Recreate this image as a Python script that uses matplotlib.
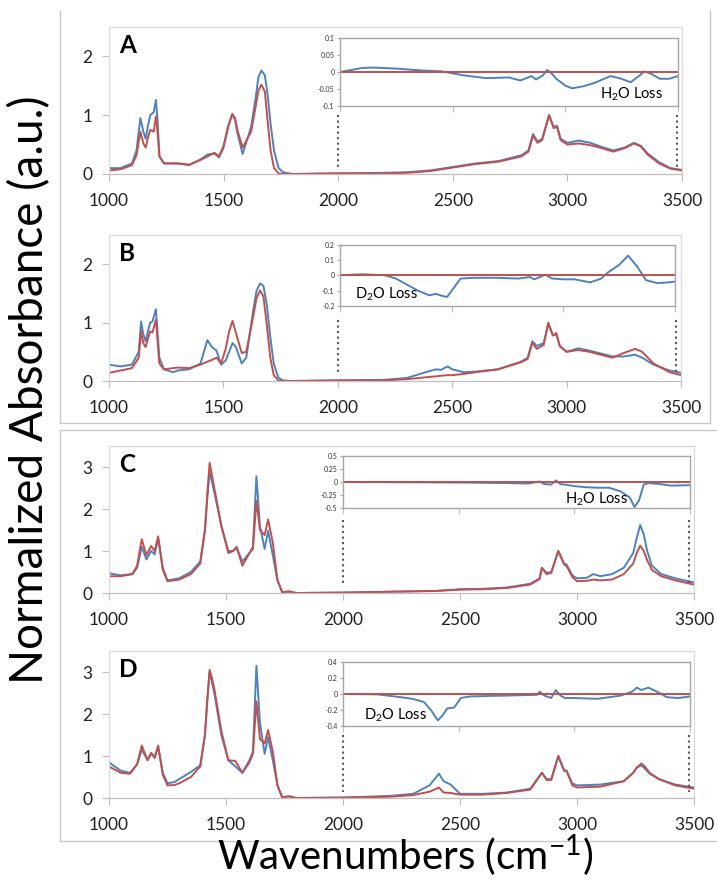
import matplotlib
matplotlib.use("Agg")
import matplotlib.pyplot as plt
from matplotlib.lines import Line2D

plt.rcParams['font.family'] = ['Lato', 'DejaVu Sans']
plt.rcParams['mathtext.fontset'] = 'custom'
plt.rcParams['mathtext.rm'] = 'Lato'
plt.rcParams['mathtext.it'] = 'Lato:italic'

BLUE = '#4f81bd'
RED = '#c0504d'

# ---------------- panel A (H2O, protein) ----------------
a_wn = [1000, 1050, 1100, 1120, 1137, 1150, 1160, 1170, 1180, 1195, 1205, 1212, 1220, 1240,
        1300, 1350, 1400, 1430, 1460, 1480, 1500, 1520, 1538, 1550, 1560, 1583, 1620, 1640,
        1652, 1665, 1680, 1692, 1705, 1720, 1740, 1760, 1800,
        2000, 2200, 2300, 2400, 2500, 2600, 2700, 2800, 2830, 2850, 2870, 2890, 2920,
        2940, 2955, 2970, 3000, 3050, 3100, 3150, 3200, 3250, 3290, 3320, 3350, 3400,
        3450, 3500]
a_blue = [0.10, 0.10, 0.18, 0.40, 0.95, 0.72, 0.60, 0.82, 1.00, 1.05, 1.26, 0.90, 0.30, 0.18,
          0.18, 0.15, 0.25, 0.33, 0.35, 0.28, 0.45, 0.80, 1.02, 0.92, 0.70, 0.34, 0.80, 1.30,
          1.65, 1.76, 1.68, 1.35, 0.85, 0.40, 0.10, 0.03, 0.00,
          0.01, 0.02, 0.03, 0.06, 0.12, 0.18, 0.22, 0.32, 0.40, 0.68, 0.55, 0.60, 1.00,
          0.80, 0.82, 0.60, 0.53, 0.57, 0.53, 0.46, 0.40, 0.45, 0.53, 0.48, 0.35, 0.20,
          0.10, 0.07]
a_red = [0.06, 0.08, 0.15, 0.32, 0.72, 0.52, 0.45, 0.62, 0.75, 0.72, 0.98, 0.70, 0.30, 0.18,
         0.18, 0.16, 0.24, 0.30, 0.36, 0.30, 0.48, 0.82, 1.02, 0.95, 0.75, 0.45, 0.72, 1.15,
         1.42, 1.52, 1.40, 0.90, 0.40, 0.10, 0.01, 0.00, 0.00,
         0.01, 0.01, 0.02, 0.05, 0.11, 0.17, 0.21, 0.30, 0.38, 0.65, 0.53, 0.58, 1.00,
         0.78, 0.80, 0.58, 0.50, 0.52, 0.49, 0.44, 0.38, 0.44, 0.52, 0.47, 0.33, 0.18,
         0.09, 0.06]
a_diff_wn = [2000, 2100, 2150, 2250, 2350, 2450, 2550, 2650, 2750, 2800, 2850, 2870, 2900,
             2920, 2940, 2960, 3000, 3030, 3080, 3130, 3200, 3240, 3290, 3330, 3350, 3380,
             3420, 3460, 3500]
a_diff = [0.000, 0.012, 0.013, 0.010, 0.005, 0.002, -0.010, -0.018, -0.016, -0.025, -0.012,
          -0.022, -0.010, 0.006, -0.005, -0.020, -0.040, -0.048, -0.042, -0.032, -0.012,
          -0.018, -0.030, -0.010, 0.002, -0.005, -0.020, -0.020, -0.012]

# ---------------- panel B (D2O, protein) ----------------
b_wn = [1000, 1050, 1100, 1130, 1140, 1150, 1160, 1170, 1180, 1190, 1205, 1212, 1220, 1240,
        1280, 1300, 1350, 1400, 1430, 1450, 1470, 1490, 1510, 1525, 1540, 1555, 1580, 1600,
        1630, 1645, 1660, 1675, 1690, 1705, 1720, 1740, 1760, 1800,
        2000, 2200, 2300, 2400, 2430, 2450, 2480, 2500, 2550, 2600, 2700,
        2800, 2830, 2850, 2870, 2900, 2920, 2940, 2955, 2970, 3000, 3050, 3100, 3150, 3200,
        3250, 3300, 3330, 3380, 3450, 3500]
b_blue = [0.28, 0.25, 0.28, 0.50, 1.02, 0.80, 0.68, 0.85, 1.00, 1.02, 1.23, 0.85, 0.40, 0.20,
          0.15, 0.18, 0.20, 0.30, 0.70, 0.58, 0.52, 0.28, 0.35, 0.50, 0.65, 0.58, 0.30, 0.40,
          1.20, 1.55, 1.67, 1.63, 1.30, 0.75, 0.30, 0.06, 0.01, 0.00,
          0.01, 0.02, 0.05, 0.17, 0.20, 0.19, 0.25, 0.20, 0.15, 0.16, 0.20,
          0.33, 0.40, 0.68, 0.60, 0.65, 0.98, 0.78, 0.80, 0.60, 0.50, 0.56, 0.52, 0.47, 0.42,
          0.42, 0.45, 0.40, 0.28, 0.18, 0.14]
b_red = [0.14, 0.18, 0.22, 0.40, 0.85, 0.65, 0.58, 0.72, 0.85, 0.83, 1.05, 0.70, 0.30, 0.20,
         0.22, 0.23, 0.22, 0.28, 0.33, 0.36, 0.40, 0.30, 0.55, 0.85, 1.03, 0.82, 0.48, 0.50,
         1.10, 1.42, 1.55, 1.45, 0.95, 0.40, 0.10, 0.01, 0.00, 0.00,
         0.01, 0.01, 0.03, 0.07, 0.08, 0.09, 0.10, 0.10, 0.12, 0.15, 0.20,
         0.32, 0.38, 0.65, 0.55, 0.62, 1.00, 0.78, 0.82, 0.60, 0.50, 0.53, 0.50, 0.45, 0.40,
         0.48, 0.55, 0.50, 0.30, 0.15, 0.10]
b_diff_wn = [2000, 2100, 2200, 2250, 2300, 2350, 2400, 2430, 2460, 2480, 2510, 2540, 2600,
             2700, 2800, 2850, 2870, 2920, 2950, 3000, 3050, 3120, 3170, 3200, 3250, 3290,
             3330, 3370, 3420, 3470, 3500]
b_diff = [0.002, 0.008, 0.002, -0.020, -0.060, -0.100, -0.130, -0.120, -0.135, -0.140,
          -0.080, -0.020, -0.015, -0.015, -0.020, -0.010, -0.025, 0.005, -0.020, -0.025,
          -0.025, -0.045, -0.020, 0.020, 0.070, 0.130, 0.060, -0.030, -0.050, -0.045, -0.040]

# ---------------- panel C (H2O, lipid) ----------------
c_wn = [1000, 1050, 1100, 1120, 1140, 1160, 1180, 1195, 1210, 1230, 1250, 1300, 1350, 1390,
        1410, 1420, 1430, 1440, 1450, 1480, 1510, 1530, 1545, 1570, 1600, 1615, 1630, 1645,
        1665, 1680, 1700, 1720, 1740, 1770, 1800, 2000, 2200, 2400, 2500, 2600, 2700, 2800,
        2840, 2850, 2870, 2890, 2920, 2945, 2955, 2980, 3000, 3040, 3070, 3100, 3150, 3200,
        3240, 3255, 3270, 3285, 3300, 3320, 3360, 3420, 3500]
c_blue = [0.47, 0.42, 0.45, 0.60, 1.10, 0.80, 1.00, 0.92, 1.30, 0.60, 0.30, 0.35, 0.50, 0.75,
          1.50, 2.25, 2.88, 2.65, 2.40, 1.60, 1.00, 1.00, 1.08, 0.75, 0.95, 1.10, 2.78, 1.60,
          1.05, 1.48, 0.90, 0.30, 0.02, 0.03, 0.00, 0.01, 0.03, 0.05, 0.09, 0.10, 0.13, 0.22,
          0.35, 0.60, 0.48, 0.50, 1.00, 0.70, 0.68, 0.42, 0.35, 0.36, 0.45, 0.40, 0.45, 0.60,
          0.95, 1.30, 1.62, 1.40, 1.00, 0.65, 0.45, 0.35, 0.25]
c_red = [0.40, 0.40, 0.45, 0.65, 1.28, 0.90, 1.12, 1.00, 1.35, 0.55, 0.28, 0.32, 0.45, 0.70,
         1.50, 2.35, 3.10, 2.80, 2.50, 1.60, 0.95, 1.00, 1.10, 0.65, 0.95, 1.05, 2.20, 1.50,
         1.38, 1.75, 1.20, 0.30, 0.02, 0.04, 0.00, 0.01, 0.03, 0.05, 0.08, 0.09, 0.12, 0.20,
         0.33, 0.60, 0.45, 0.48, 1.00, 0.68, 0.65, 0.38, 0.28, 0.29, 0.32, 0.30, 0.32, 0.45,
         0.70, 0.95, 1.13, 1.00, 0.78, 0.55, 0.40, 0.30, 0.20]
c_diff_wn = [2000, 2500, 2700, 2800, 2850, 2870, 2900, 2920, 2940, 2960, 3000, 3050, 3100,
             3150, 3200, 3240, 3260, 3280, 3300, 3320, 3370, 3420, 3500]
c_diff = [0.00, -0.01, -0.02, -0.03, 0.01, -0.04, -0.05, 0.03, -0.04, -0.05, -0.08, -0.10,
          -0.11, -0.11, -0.18, -0.30, -0.48, -0.35, -0.05, -0.02, -0.04, -0.07, -0.06]

# ---------------- panel D (D2O, lipid) ----------------
d_wn = [1000, 1050, 1090, 1120, 1140, 1165, 1180, 1195, 1210, 1230, 1250, 1280, 1300, 1350,
        1390, 1410, 1420, 1430, 1440, 1450, 1480, 1510, 1540, 1570, 1600, 1615, 1630, 1645,
        1665, 1680, 1700, 1720, 1740, 1770, 1800, 2000, 2200, 2300, 2370, 2410, 2430, 2460,
        2500, 2600, 2700, 2800, 2850, 2870, 2890, 2920, 2945, 2955, 2980, 3000, 3100, 3200,
        3240, 3255, 3275, 3290, 3310, 3350, 3420, 3500]
d_blue = [0.85, 0.65, 0.60, 0.80, 1.15, 0.90, 1.05, 0.98, 1.22, 0.60, 0.35, 0.38, 0.45, 0.62,
          0.78, 1.50, 2.30, 3.00, 2.75, 2.50, 1.50, 0.90, 0.75, 0.60, 0.90, 1.10, 3.15, 1.80,
          1.05, 1.45, 0.90, 0.30, 0.01, 0.04, 0.00, 0.01, 0.05, 0.10, 0.30, 0.58, 0.40, 0.32,
          0.10, 0.10, 0.13, 0.22, 0.60, 0.45, 0.45, 1.00, 0.65, 0.65, 0.35, 0.30, 0.32, 0.40,
          0.60, 0.72, 0.78, 0.70, 0.58, 0.45, 0.32, 0.25]
d_red = [0.75, 0.60, 0.58, 0.80, 1.25, 0.90, 1.08, 0.95, 1.25, 0.55, 0.30, 0.31, 0.35, 0.50,
         0.75, 1.50, 2.35, 3.05, 2.85, 2.60, 1.60, 0.90, 0.88, 0.60, 0.85, 1.05, 2.30, 1.40,
         1.30, 1.62, 1.10, 0.30, 0.02, 0.04, 0.00, 0.01, 0.03, 0.07, 0.15, 0.25, 0.13, 0.12,
         0.08, 0.08, 0.12, 0.20, 0.60, 0.43, 0.43, 1.00, 0.65, 0.65, 0.30, 0.25, 0.27, 0.40,
         0.60, 0.72, 0.82, 0.75, 0.60, 0.45, 0.30, 0.22]
d_diff_wn = [2000, 2150, 2250, 2300, 2350, 2380, 2410, 2430, 2450, 2480, 2510, 2550, 2700,
             2840, 2850, 2870, 2900, 2920, 2940, 2960, 3000, 3100, 3200, 3250, 3270, 3290,
             3320, 3370, 3400, 3450, 3500]
d_diff = [0.000, -0.005, -0.040, -0.060, -0.100, -0.200, -0.330, -0.270, -0.180, -0.170,
          -0.050, -0.030, -0.020, -0.010, 0.030, -0.020, -0.050, 0.050, -0.020, -0.050,
          -0.050, -0.060, -0.020, 0.030, 0.080, 0.050, 0.080, 0.010, -0.040, -0.050, -0.030]

zero_wn = [2000, 3500]
zero_diff = [0, 0]

W, H = 717, 880
fig = plt.figure(figsize=(W / 100, H / 100), dpi=100)


def box(l, t, r, b):
    return [l / W, 1 - b / H, (r - l) / W, (b - t) / H]


def main_panel(rect, wn, blue, red, ymax, yticks, letter, dots):
    ax = fig.add_axes(box(*rect))
    ax.plot(wn, blue, color=BLUE, lw=1.4)
    ax.plot(wn, red, color=RED, lw=1.4)
    for xd in (2000, 3480):
        ax.plot([xd, xd], dots, color='#555555', ls=':', lw=1.5)
    ax.set_xlim(1000, 3500)
    ax.set_ylim(0, ymax)
    ax.set_xticks([1000, 1500, 2000, 2500, 3000, 3500])
    ax.set_yticks(yticks)
    for s in ax.spines.values():
        s.set_color('#d9d9d9')
        s.set_linewidth(0.9)
    ax.spines['bottom'].set_color('#bfbfbf')
    ax.tick_params(direction='out', length=5, color='#bfbfbf', labelsize=12.5,
                   labelcolor='#222222', pad=7)
    ax.tick_params(axis='x', pad=9)
    ax.text(0.017, 0.95, letter, transform=ax.transAxes, fontsize=17.5, fontweight='bold',
            va='top', ha='left', color='black')
    return ax


def inset_panel(rect, wn, diff, ylim, yticks, ylabels, label, lx, ly):
    ax = fig.add_axes(box(*rect))
    ax.plot(wn, diff, color=BLUE, lw=1.4)
    ax.plot(zero_wn, zero_diff, color=RED, lw=1.4)
    ax.set_xlim(2000, 3500)
    ax.set_ylim(*ylim)
    ax.set_xticks([2000, 2500, 3000, 3500])
    ax.set_xticklabels([])
    ax.set_yticks(yticks)
    ax.set_yticklabels(ylabels)
    for s in ax.spines.values():
        s.set_color('#a6a6a6')
        s.set_linewidth(1.0)
    ax.tick_params(axis='y', length=2, color='#a6a6a6', labelsize=5, pad=2,
                   labelcolor='#333333')
    ax.tick_params(axis='x', direction='out', length=4, color='#bfbfbf')
    ax.text(lx, ly, label, transform=ax.transAxes, fontsize=10.5, ha='left', va='center')
    return ax


main_panel((109, 27, 682, 174), a_wn, a_blue, a_red, 2.5, [0, 1, 2], 'A', [1.0, 0.07])
inset_panel((340, 38, 678, 106), a_diff_wn, a_diff, (-0.1, 0.1),
            [-0.1, -0.05, 0, 0.05, 0.1], ['-0.1', '-0.05', '0', '0.05', '0.1'],
            'H$_2$O Loss', 0.77, 0.17)

main_panel((109, 235, 681, 381), b_wn, b_blue, b_red, 2.5, [0, 1, 2], 'B', [1.04, 0.10])
inset_panel((340, 245, 675, 306), b_diff_wn, b_diff, (-0.2, 0.2),
            [-0.2, -0.1, 0, 0.1, 0.2], ['-0.2', '-0.1', '0', '0.1', '0.2'],
            'D$_2$O Loss', 0.045, 0.19)

main_panel((109, 446, 694, 593), c_wn, c_blue, c_red, 3.5, [0, 1, 2, 3], 'C', [1.74, 0.19])
inset_panel((343, 456, 690, 508), c_diff_wn, c_diff, (-0.5, 0.5),
            [-0.5, -0.25, 0, 0.25, 0.5], ['-0.5', '-0.25', '0', '0.25', '0.5'],
            'H$_2$O Loss', 0.64, 0.17)

main_panel((109, 651, 694, 798), d_wn, d_blue, d_red, 3.5, [0, 1, 2, 3], 'D', [1.50, 0.14])
inset_panel((343, 662, 690, 726), d_diff_wn, d_diff, (-0.4, 0.4),
            [-0.4, -0.2, 0, 0.2, 0.4], ['-0.4', '-0.2', '0', '0.2', '0.4'],
            'D$_2$O Loss', 0.06, 0.17)

# grey frames round the two figure halves
frame = '#c8c8c8'
for (x0, y0, x1, y1) in [(60, 11, 60, 423), (60, 423, 710, 423), (710, 11, 710, 423),
                         (60, 430, 717, 430), (60, 430, 60, 841), (60, 841, 717, 841)]:
    fig.add_artist(Line2D([x0 / W, x1 / W], [1 - y0 / H, 1 - y1 / H], color=frame, lw=1.0))

fig.text(30 / W, 1 - 390 / H, 'Normalized Absorbance (a.u.)', rotation=90, fontsize=33,
         ha='center', va='center')
fig.text(405 / W, 1 - 856 / H, r'Wavenumbers (cm$^{\mathrm{-1}}$)', fontsize=29,
         ha='center', va='center')

fig.savefig('out.png', dpi=100)
